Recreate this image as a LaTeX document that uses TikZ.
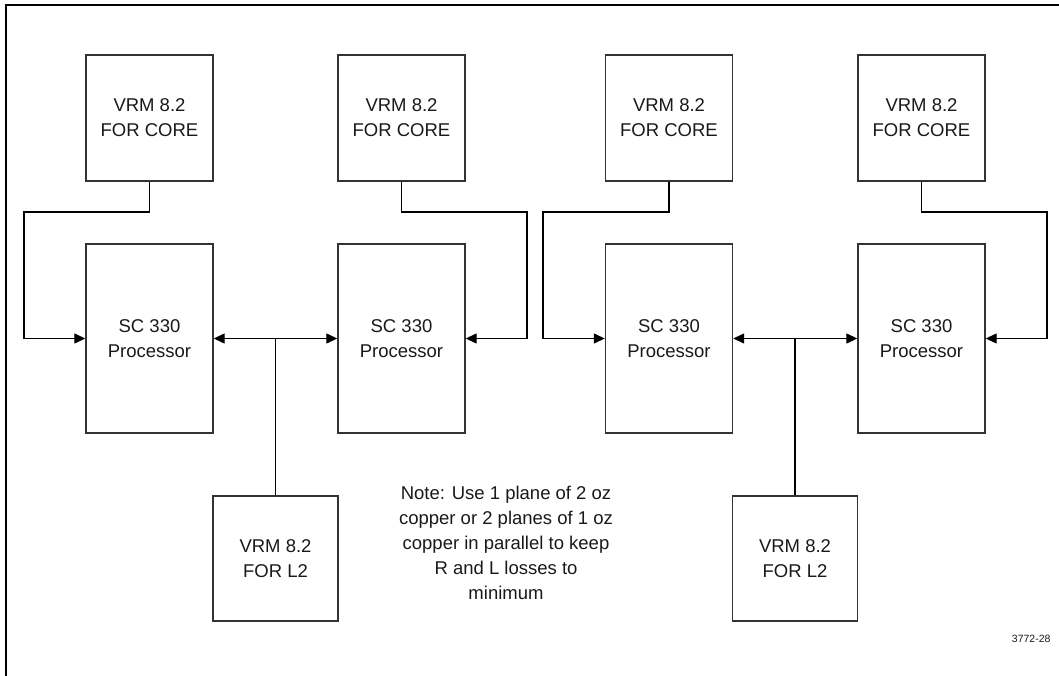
\documentclass[tikz,border=0pt]{standalone}
\usepackage{fontspec}
\setmainfont{Liberation Sans}
\usetikzlibrary{arrows.meta}
\begin{document}
\begin{tikzpicture}[x=1pt,y=-1pt,
  box/.style={draw=black!80, line width=1.4pt, inner sep=0pt, align=center,
    text=black!90, font=\fontsize{18.5}{25}\selectfont},
  core/.style={box, minimum width=127pt, minimum height=126pt},
  proc/.style={box, minimum width=127pt, minimum height=189pt},
  ltwo/.style={box, minimum width=125pt, minimum height=125pt},
  wire/.style={draw=black, line width=1.3pt},
  tip/.style={-{Triangle[length=11pt,width=10pt]}},
  dtip/.style={{Triangle[length=11pt,width=10pt]}-{Triangle[length=11pt,width=10pt]}}]
\useasboundingbox (0,0) rectangle (1059,676);
\draw[line width=2.4pt] (6,676) -- (6,5) -- (1059,5);

\node[core] (c1) at (149.5,118) {VRM 8.2\\FOR CORE};
\node[core] (c2) at (401.5,118) {VRM 8.2\\FOR CORE};
\node[core] (c3) at (669,118) {VRM 8.2\\FOR CORE};
\node[core] (c4) at (921.5,118) {VRM 8.2\\FOR CORE};

\node[proc] (p1) at (149.5,338.5) {SC 330\\Processor};
\node[proc] (p2) at (401.5,338.5) {SC 330\\Processor};
\node[proc] (p3) at (669,338.5) {SC 330\\Processor};
\node[proc] (p4) at (921.5,338.5) {SC 330\\Processor};

\node[ltwo] (l1) at (275.5,558.5) {VRM 8.2\\FOR L2};
\node[ltwo] (l2) at (795,558.5) {VRM 8.2\\FOR L2};

\draw[wire,tip] (c1.south) |- (24,212) |- (p1.west);
\draw[wire,tip] (c2.south) |- (527,212) |- (p2.east);
\draw[wire,tip] (c3.south) |- (543,212) |- (p3.west);
\draw[wire,tip] (c4.south) |- (1047,212) |- (p4.east);

\draw[wire,dtip] (p1.east) -- (p2.west);
\draw[wire] (l1.north) -- (l1.north |- p1.east);
\draw[wire,dtip] (p3.east) -- (p4.west);
\draw[wire] (l2.north) -- (l2.north |- p3.east);

\node[align=center, text=black!90, font=\fontsize{18.5}{25}\selectfont] (note) at (506,543)
  {Note: Use 1 plane of 2 oz\\copper or 2 planes of 1 oz\\copper in parallel to keep\\R and L losses to\\minimum};
\node[anchor=base east, text=black!90, font=\fontsize{10.5}{12}\selectfont] (fig) at (1054,642) {3772-28};
\end{tikzpicture}
\end{document}
